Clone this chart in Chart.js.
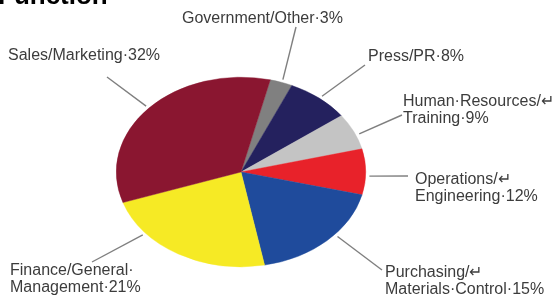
<!DOCTYPE html>
<html lang="en">
<head>
    <meta charset="UTF-8" />
    <title>Function</title>
    <script src="https://cdn.jsdelivr.net/npm/chart.js"></script>
    <style>
        html, body {
            margin: 0;
            padding: 0;
            background: #fff;
        }
        canvas {
            display: block;
        }
    </style>
</head>
<body>
    <canvas id="pieChart" width="555" height="302"></canvas>

    <script>
        // slices, clockwise from the top
        const categories = ['Government/Other', 'Press/PR', 'Human Resources/Training', 'Operations/Engineering',
            'Purchasing/Materials Control', 'Finance/General Management', 'Sales/Marketing'];
        // slice sizes as drawn in the picture
        const sliceShares = [2.9, 8.2, 6.2, 7.8, 18.1, 22.8, 34.0];
        const labelLines = [
            ['Government/Other·3%'],
            ['Press/PR·8%'],
            ['Human·Resources/↵', 'Training·9%'],
            ['Operations/↵', 'Engineering·12%'],
            ['Purchasing/↵', 'Materials·Control·15%'],
            ['Finance/General·', 'Management·21%'],
            ['Sales/Marketing·32%']
        ];
        const sliceColors = ['#808080', '#24215e', '#c4c4c4', '#e8222a', '#1f4b9c', '#f6ea25', '#8a1630'];

        // label text x / first baseline, outer end of the leader,
        // and where along the slice the leader points (0..1)
        const labelLayout = [
            {x: 182, y: 23, lx: 296, ly: 27, at: 0.52},
            {x: 368, y: 61, lx: 365, ly: 65, at: 0.51},
            {x: 403, y: 106, lx: 402, ly: 115, at: 0.6},
            {x: 415, y: 184, lx: 408, ly: 176, at: 0.59},
            {x: 385, y: 277, lx: 382, ly: 270, at: 0.42},
            {x: 10, y: 275, lx: 92, ly: 262, at: 0.74},
            {x: 8, y: 60, lx: 107, ly: 77, at: 0.5}
        ];
        const tilt = 0.76;   // pie is seen from an angle -> ellipse

        const ellipsePlugin = {
            id: 'ellipse',
            beforeDatasetsDraw(chart) {
                const a = chart.getDatasetMeta(0).data[0];
                const ctx = chart.ctx;
                ctx.save();
                ctx.translate(a.x, a.y);
                ctx.scale(1, tilt);
                ctx.translate(-a.x, -a.y);
            },
            afterDatasetsDraw(chart) {
                chart.ctx.restore();
            }
        };

        const labelPlugin = {
            id: 'labels',
            afterDraw(chart) {
                const ctx = chart.ctx;
                const arcs = chart.getDatasetMeta(0).data;
                ctx.save();

                // title, cut at the top edge
                ctx.fillStyle = '#000';
                ctx.font = 'bold 26px "Liberation Sans", Arial, sans-serif';
                ctx.textBaseline = 'alphabetic';
                ctx.fillText('Function', -2, 4);

                arcs.forEach((arc, i) => {
                    const l = labelLayout[i];
                    const ang = arc.startAngle + (arc.endAngle - arc.startAngle) * l.at;
                    const r = arc.outerRadius * 1.03;
                    const px = arc.x + r * Math.cos(ang);
                    const py = arc.y + r * Math.sin(ang) * tilt;
                    ctx.strokeStyle = '#7f7f7f';
                    ctx.lineWidth = 1.4;
                    ctx.beginPath();
                    ctx.moveTo(px, py);
                    ctx.lineTo(l.lx, l.ly);
                    ctx.stroke();

                    ctx.fillStyle = '#3c3c3c';
                    ctx.font = '16px "Liberation Sans", Arial, sans-serif';
                    labelLines[i].forEach((line, j) => {
                        ctx.fillText(line, l.x, l.y + j * 17);
                    });
                });
                ctx.restore();
            }
        };

        const ctx = document.getElementById('pieChart').getContext('2d');
        new Chart(ctx, {
            type: 'pie',
            data: {
                labels: categories,
                datasets: [{
                    data: sliceShares,
                    backgroundColor: sliceColors,
                    borderColor: sliceColors,
                    borderWidth: 0.5
                }]
            },
            options: {
                responsive: false,
                animation: false,
                rotation: 13.6,
                layout: {
                    padding: {left: 116, right: 189, top: 47, bottom: 5}
                },
                plugins: {
                    legend: {display: false},
                    tooltip: {enabled: false}
                }
            },
            plugins: [ellipsePlugin, labelPlugin]
        });
    </script>
</body>
</html>
